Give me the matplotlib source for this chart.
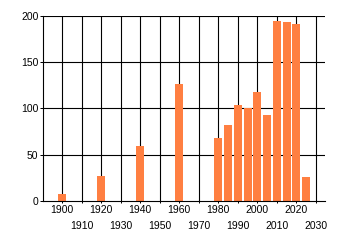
import numpy as np
import matplotlib.pyplot as plt
from matplotlib.ticker import FixedLocator, FixedFormatter

plt.rcParams['font.family'] = ['Liberation Sans', 'DejaVu Sans']

years = [1900, 1920, 1940, 1960, 1980, 1985, 1990, 1995, 2000, 2005, 2010, 2015, 2020, 2025]
counts = [8, 27, 59, 126, 68, 82, 103, 100, 117, 93, 194, 193, 191, 26]

row1_ticks = [1900, 1920, 1940, 1960, 1980, 2000, 2020]
row2_ticks = [1910, 1930, 1950, 1970, 1990, 2010, 2030]
y_ticks = [0, 50, 100, 150, 200]

fig = plt.figure(figsize=(3.4, 2.45), dpi=100)
ax = fig.add_axes([42.7 / 340, 44 / 245, 282 / 340, 185.5 / 245])

ax.bar(years, counts, width=4.1, color='#FF7F41', zorder=3)

ax.set_xlim(1890, 2034.5)
ax.set_ylim(0, 200)

# grid lines drawn by hand so they sit behind the bars
for x in sorted(row1_ticks + row2_ticks):
    ax.axvline(x, color='black', lw=0.8, zorder=1)
for y in y_ticks[1:]:
    ax.axhline(y, color='black', lw=0.8, zorder=1)

ax.xaxis.set_major_locator(FixedLocator(row1_ticks))
ax.xaxis.set_major_formatter(FixedFormatter([str(t) for t in row1_ticks]))
ax.xaxis.set_minor_locator(FixedLocator(row2_ticks))
ax.xaxis.set_minor_formatter(FixedFormatter([str(t) for t in row2_ticks]))
ax.tick_params(axis='x', which='major', length=1.5, pad=1.2, width=0.72, labelsize=7.5)
ax.tick_params(axis='x', which='minor', length=1.5, pad=13.0, width=0.72, labelsize=7.5)

ax.set_yticks(y_ticks)
ax.tick_params(axis='y', length=2.4, pad=0.6, width=0.72, labelsize=7.5)

for side in ['top', 'right']:
    ax.spines[side].set_visible(False)
for side in ['left', 'bottom']:
    ax.spines[side].set_linewidth(0.8)
    ax.spines[side].set_zorder(4)

fig.savefig('out.png', dpi=100)
